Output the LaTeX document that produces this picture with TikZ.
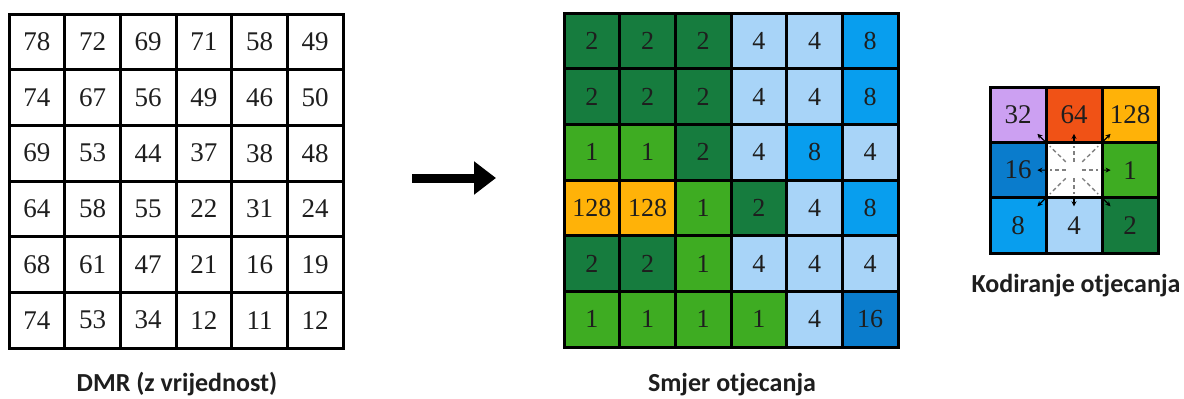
\documentclass[tikz,border=0pt]{standalone}
\usepackage{fontspec}
\setmainfont{Liberation Serif}
\newfontfamily\labfont{Carlito}
\usetikzlibrary{arrows.meta,calc}
\definecolor{c0}{RGB}{255,255,255}
\definecolor{c1}{RGB}{62,172,34}
\definecolor{c2}{RGB}{22,124,62}
\definecolor{c4}{RGB}{168,212,248}
\definecolor{c8}{RGB}{8,158,238}
\definecolor{c16}{RGB}{10,124,204}
\definecolor{c32}{RGB}{204,160,242}
\definecolor{c64}{RGB}{240,82,22}
\definecolor{c128}{RGB}{255,178,8}
\definecolor{txt}{RGB}{30,30,30}
\begin{document}
\begin{tikzpicture}[x=1pt,y=-1pt,
  cellbase/.style={draw=black, line width=3pt, inner sep=0pt, text=txt},
  cellL/.style={cellbase, minimum width=55.67pt, minimum height=55.67pt, font=\fontsize{27}{27}\selectfont},
  cellM/.style={cellbase, minimum width=55.67pt, minimum height=55.67pt, font=\fontsize{26}{26}\selectfont},
  cellK/.style={cellbase, minimum width=56pt, minimum height=55.4pt, font=\fontsize{27}{27}\selectfont},
  lab/.style={anchor=base, text=txt, font=\labfont\bfseries\fontsize{26}{26}\selectfont},
  raydash/.style={draw=gray, line width=1.4pt, dash pattern=on 4pt off 3pt},
  raytip/.style={draw=black, line width=1.2pt, -{Stealth[length=5pt,width=5pt]}},
  bigarrow/.style={draw=black, line width=9pt, -{Triangle[length=22pt,width=32pt]}}
]
\useasboundingbox (0,0) rectangle (1184,399);
\fill[white] (0,0) rectangle (1184,399);

% Left grid: DMR
\foreach \row [count=\r] in {{78,72,69,71,58,49},{74,67,56,49,46,50},{69,53,44,37,38,48},{64,58,55,22,31,24},{68,61,47,21,16,19},{74,53,34,12,11,12}}{
  \foreach \v [count=\c] in \row {
    \node[cellL] (d-\r-\c) at ({9+55.67*(\c-0.5)},{14+55.67*(\r-0.5)}) {\v};
  }
}

% Middle grid: flow direction
\foreach \row [count=\r] in {{2,2,2,4,4,8},{2,2,2,4,4,8},{1,1,2,4,8,4},{128,128,1,2,4,8},{2,2,1,4,4,4},{1,1,1,1,4,16}}{
  \foreach \v [count=\c] in \row {
    \node[cellM, fill=c\v] (s-\r-\c) at ({564+55.67*(\c-0.5)},{13+55.67*(\r-0.5)}) {\v};
  }
}

% Legend grid
\foreach \row [count=\r] in {{32,64,128},{16,0,1},{8,4,2}}{
  \foreach \v [count=\c] in \row {
    \node[cellK, fill=c\v] (k-\r-\c) at ({990+56*(\c-0.5)},{87+55.4*(\r-0.5)}) {\ifnum\v=0\else\v\fi};
  }
}

% Rays in legend centre
\foreach \an in {east,north east,north,north west,west,south west,south,south east}{
  \draw[raydash] ($(k-2-2.center)!0.28!(k-2-2.\an)$) -- ($(k-2-2.center)!0.82!(k-2-2.\an)$);
  \draw[raytip] ($(k-2-2.center)!0.92!(k-2-2.\an)$) -- ($(k-2-2.center)!1.24!(k-2-2.\an)$);
}

% Big arrow
\coordinate (arS) at (412,178);
\coordinate (arE) at (496,178);
\draw[bigarrow] (arS) -- (arE);

% Labels
\node[lab] (l1) at (177,391) {DMR (z vrijednost)};
\node[lab] (l2) at (732,391) {Smjer otjecanja};
\node[lab] (l3) at (1076,292) {Kodiranje otjecanja};
\end{tikzpicture}
\end{document}
